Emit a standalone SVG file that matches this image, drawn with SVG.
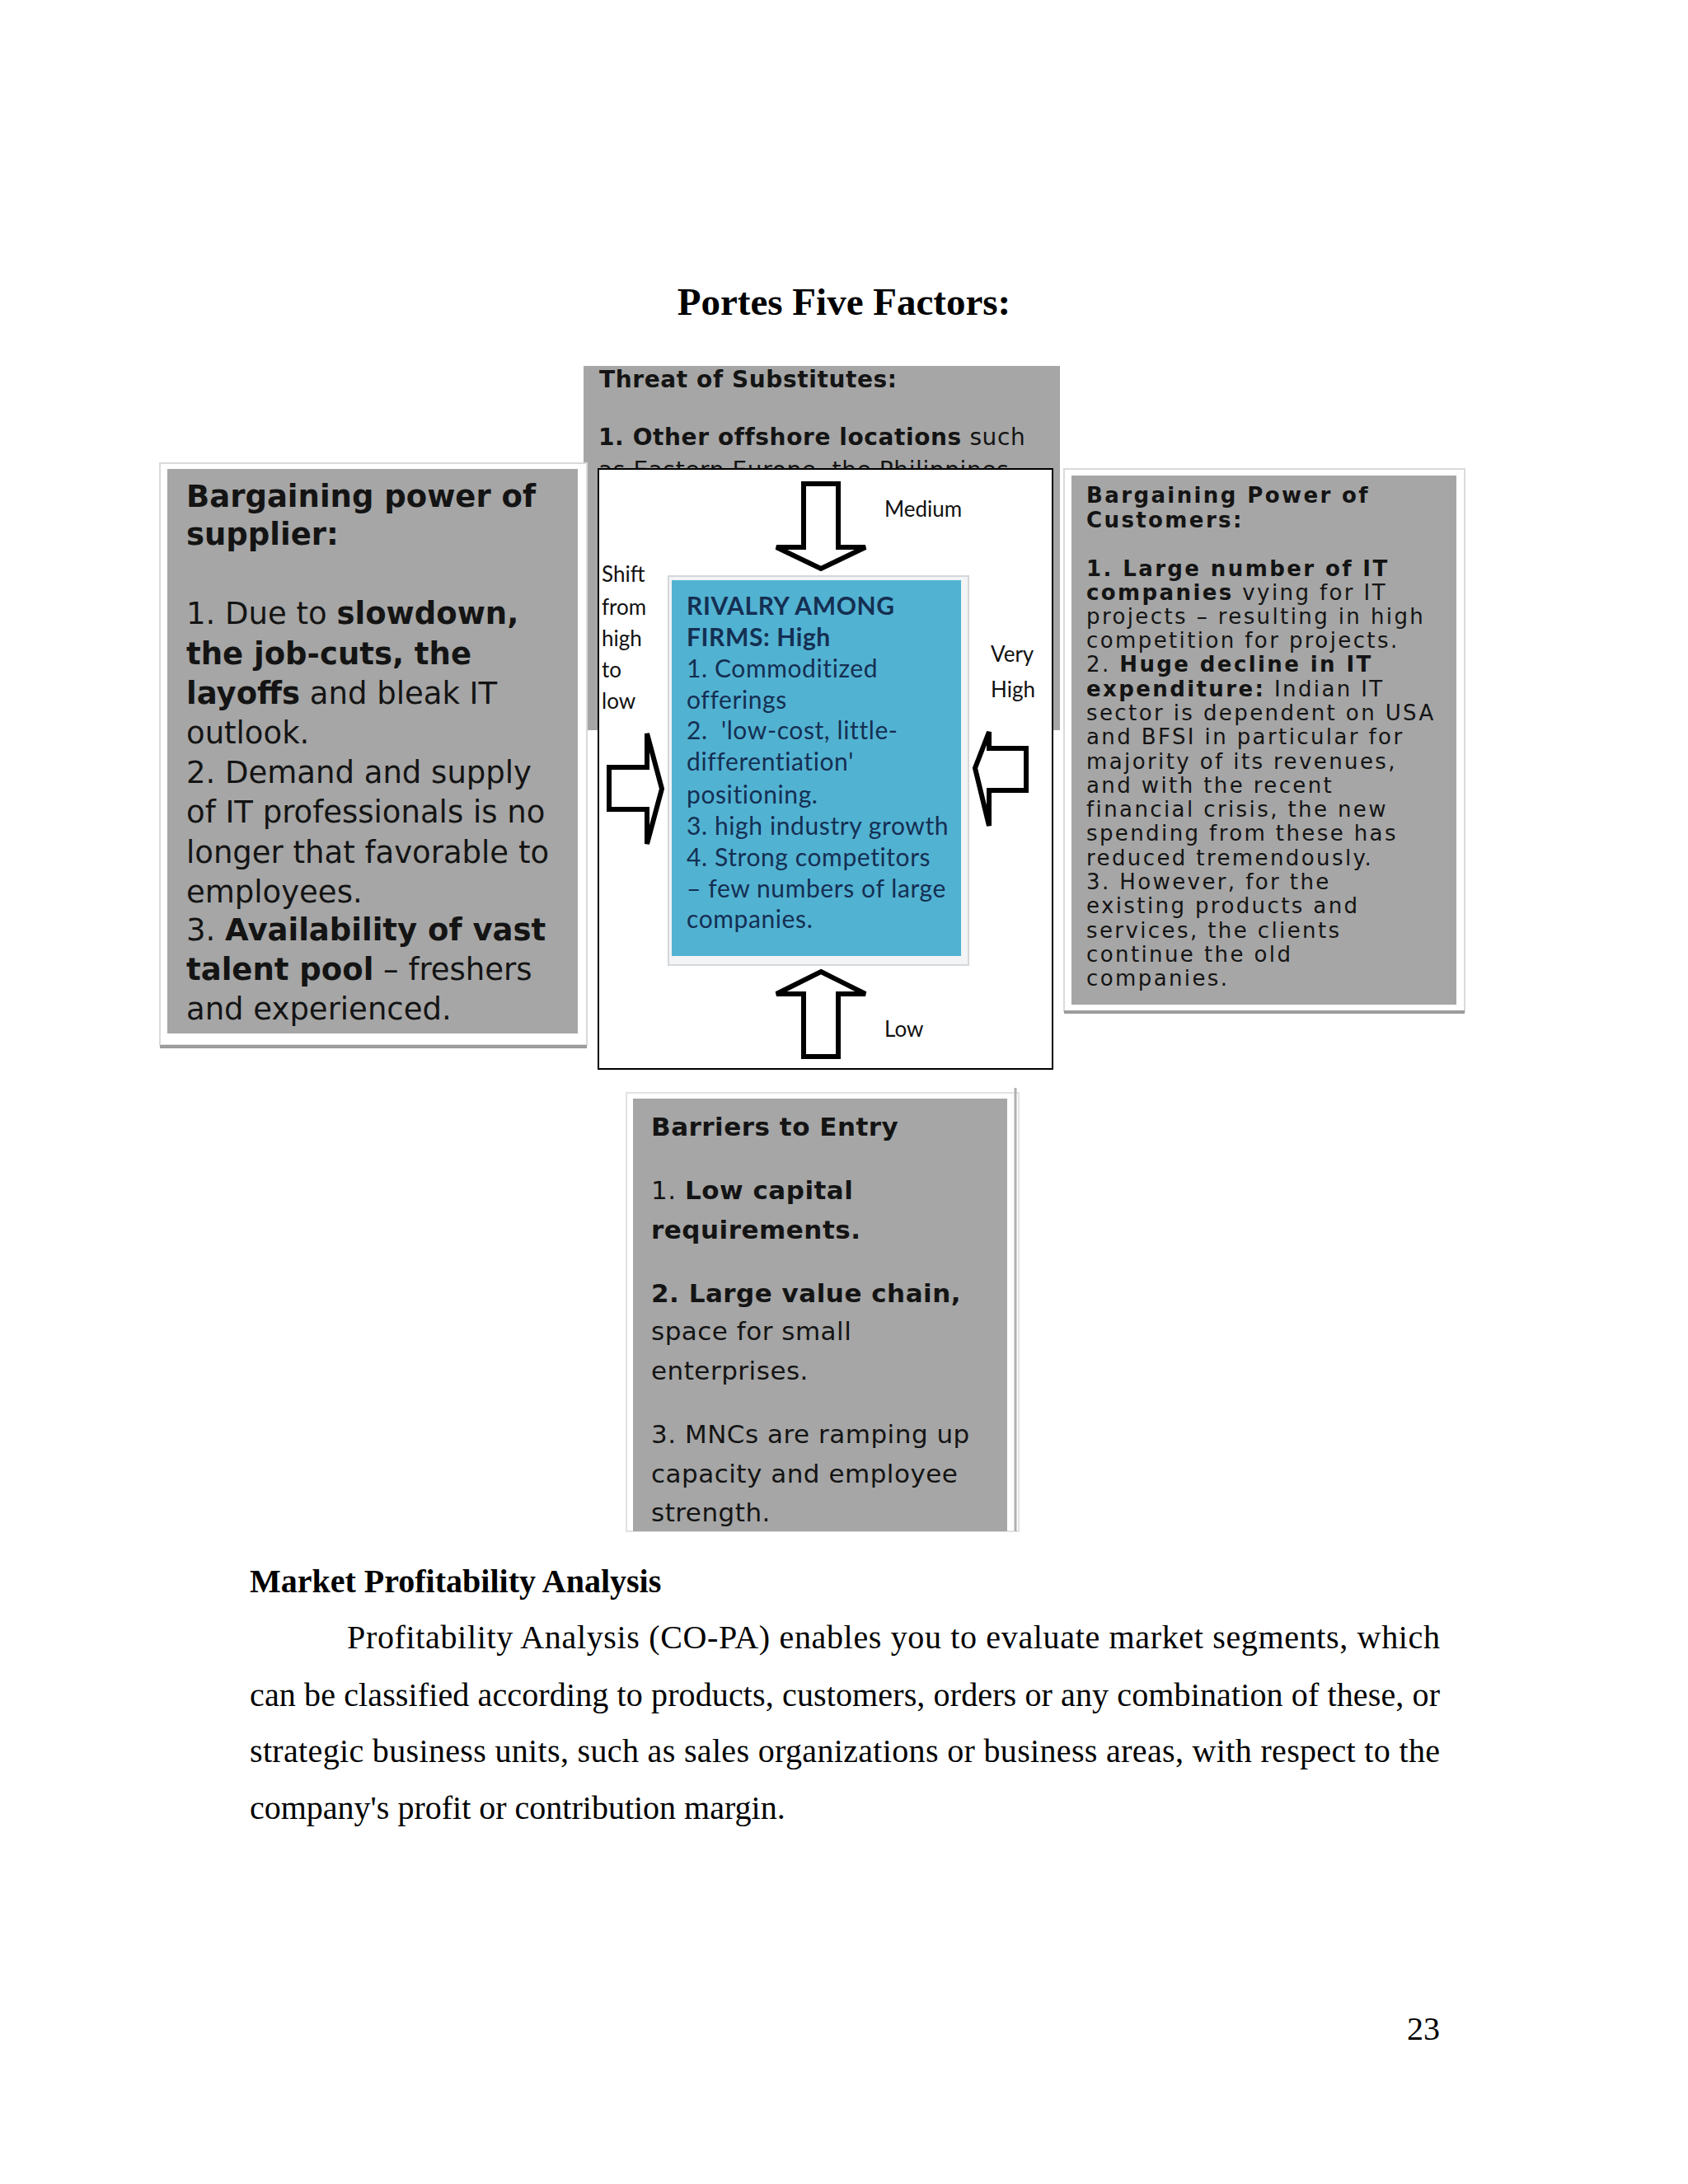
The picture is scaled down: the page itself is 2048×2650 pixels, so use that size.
<svg xmlns="http://www.w3.org/2000/svg" width="2048" height="2650" viewBox="0 0 2048 2650">
<defs>
<style>
.page{fill:#fff}
.gray{fill:#a6a6a6}
.frame{fill:#fff;stroke:#dadada;stroke-width:2}
.shadow{stroke:#9c9c9c;stroke-width:4}
.bt{font-family:"DejaVu Sans",Verdana,sans-serif;fill:#141414}
.l37{font-size:37px}
.r25{font-size:26px;letter-spacing:2.4px}
.t28{font-size:28px;letter-spacing:0.6px}
.b31{font-size:31px;letter-spacing:0.5px}
.b{font-weight:bold}
.arrow{fill:#fff;stroke:#000;stroke-width:6;stroke-linejoin:miter}
.lbl{font-family:Lato,"Open Sans",sans-serif;font-size:26px;fill:#111}
.rv{font-family:Lato,"Open Sans",sans-serif;font-size:30px;fill:#142f52;letter-spacing:0.6px}
.serif{font-family:"Liberation Serif","Times New Roman",serif;fill:#000}
</style>
<clipPath id="topclip"><rect x="700" y="430" width="600" height="139"/></clipPath>
</defs>
<rect class="page" x="0" y="0" width="2048" height="2650"/>

<text id="title" class="serif" x="1024" y="382" font-size="47" font-weight="bold" text-anchor="middle">Portes Five Factors:</text>

<g id="threat-substitutes">
<rect class="gray" x="708" y="444" width="578" height="442"/>
<text class="bt t28 b" x="727" y="470">Threat of Substitutes:</text>
<text class="bt t28" x="726" y="540"><tspan class="b">1. Other offshore locations</tspan> such</text>
<text class="bt t28" x="726" y="580" clip-path="url(#topclip)">as Eastern Europe, the Philippines</text>
</g>

<g id="supplier-power">
<rect class="frame" x="194" y="562" width="518" height="706"/>
<rect class="gray" x="203" y="569" width="498" height="685"/>
<line class="shadow" x1="194" y1="1270" x2="712" y2="1270"/>
<text class="bt l37 b" x="226" y="615">Bargaining power of</text>
<text class="bt l37 b" x="226" y="661">supplier:</text>
<text class="bt l37" x="226" y="757">1. Due to <tspan class="b">slowdown,</tspan></text>
<text class="bt l37 b" x="226" y="806">the job-cuts, the</text>
<text class="bt l37" x="226" y="854"><tspan class="b">layoffs</tspan> and bleak IT</text>
<text class="bt l37" x="226" y="902">outlook.</text>
<text class="bt l37" x="226" y="950">2. Demand and supply</text>
<text class="bt l37" x="226" y="998">of IT professionals is no</text>
<text class="bt l37" x="226" y="1047">longer that favorable to</text>
<text class="bt l37" x="226" y="1095">employees.</text>
<text class="bt l37" x="226" y="1141">3. <tspan class="b">Availability of vast</tspan></text>
<text class="bt l37" x="226" y="1189"><tspan class="b">talent pool</tspan> – freshers</text>
<text class="bt l37" x="226" y="1237">and experienced.</text>
</g>

<g id="customer-power">
<rect class="frame" x="1291" y="569" width="486" height="658"/>
<rect class="gray" x="1300" y="577" width="467" height="642"/>
<line class="shadow" x1="1291" y1="1228" x2="1777" y2="1228"/>
<text class="bt r25 b" x="1318" y="610">Bargaining Power of</text>
<text class="bt r25 b" x="1318" y="640">Customers:</text>
<text class="bt r25 b" x="1318" y="699">1. Large number of IT</text>
<text class="bt r25" x="1318" y="728"><tspan class="b">companies</tspan> vying for IT</text>
<text class="bt r25" x="1318" y="757">projects – resulting in high</text>
<text class="bt r25" x="1318" y="786">competition for projects.</text>
<text class="bt r25" x="1318" y="815">2. <tspan class="b">Huge decline in IT</tspan></text>
<text class="bt r25" x="1318" y="845"><tspan class="b">expenditure:</tspan> Indian IT</text>
<text class="bt r25" x="1318" y="874">sector is dependent on USA</text>
<text class="bt r25" x="1318" y="903">and BFSI in particular for</text>
<text class="bt r25" x="1318" y="933">majority of its revenues,</text>
<text class="bt r25" x="1318" y="962">and with the recent</text>
<text class="bt r25" x="1318" y="991">financial crisis, the new</text>
<text class="bt r25" x="1318" y="1020">spending from these has</text>
<text class="bt r25" x="1318" y="1050">reduced tremendously.</text>
<text class="bt r25" x="1318" y="1079">3. However, for the</text>
<text class="bt r25" x="1318" y="1108">existing products and</text>
<text class="bt r25" x="1318" y="1138">services, the clients</text>
<text class="bt r25" x="1318" y="1167">continue the old</text>
<text class="bt r25" x="1318" y="1196">companies.</text>
</g>

<g id="barriers-entry">
<rect x="760" y="1326" width="476" height="532" fill="#fff" stroke="#e2e2e2" stroke-width="2"/>
<rect class="gray" x="768" y="1333" width="454" height="525"/>
<line x1="1232" y1="1320" x2="1232" y2="1858" stroke="#b0b0b0" stroke-width="3"/>
<text class="bt b31 b" x="790" y="1378">Barriers to Entry</text>
<text class="bt b31" x="790" y="1455">1. <tspan class="b">Low capital</tspan></text>
<text class="bt b31 b" x="790" y="1503">requirements.</text>
<text class="bt b31 b" x="790" y="1580">2. Large value chain,</text>
<text class="bt b31" x="790" y="1626">space for small</text>
<text class="bt b31" x="790" y="1674">enterprises.</text>
<text class="bt b31" x="790" y="1751">3. MNCs are ramping up</text>
<text class="bt b31" x="790" y="1799">capacity and employee</text>
<text class="bt b31" x="790" y="1846">strength.</text>
</g>

<g id="rivalry">
<rect x="726" y="569" width="551" height="728" fill="#fff" stroke="#000" stroke-width="2"/>
<rect x="811" y="699" width="364" height="472" fill="#f2f4f5" stroke="#d4d8da" stroke-width="2"/>
<rect x="815" y="704" width="351" height="456" fill="#52b2d2"/>
<text class="rv" x="833" y="746" font-weight="bold">RIVALRY AMONG</text>
<text class="rv" x="833" y="784" font-weight="bold">FIRMS: High</text>
<text class="rv" x="833" y="822">1. Commoditized</text>
<text class="rv" x="833" y="860">offerings</text>
<text class="rv" x="833" y="897">2. <tspan dx="8">'low-cost, little-</tspan></text>
<text class="rv" x="833" y="935">differentiation'</text>
<text class="rv" x="833" y="975">positioning.</text>
<text class="rv" x="833" y="1013">3. high industry growth</text>
<text class="rv" x="833" y="1051">4. Strong competitors</text>
<text class="rv" x="833" y="1089">– few numbers of large</text>
<text class="rv" x="833" y="1126">companies.</text>
</g>

<g id="connectors">
<polygon class="arrow" points="975,587 1017,587 1017,664 1050,664 996,690 942,664 975,664"/>
<polygon class="arrow" points="996,1179 1050,1206 1017,1206 1017,1282 975,1282 975,1206 942,1206"/>
<polygon class="arrow" points="739,931 785,931 785,890 803,957 785,1024 785,982 739,982"/>
<polygon class="arrow" points="1245,908 1245,959 1200,959 1200,1002 1183,932 1200,888 1200,908"/>
<text class="lbl" x="1073" y="627">Medium</text>
<text class="lbl" x="1073" y="1258">Low</text>
<text class="lbl" x="730" y="706">Shift</text>
<text class="lbl" x="730" y="746">from</text>
<text class="lbl" x="730" y="784">high</text>
<text class="lbl" x="730" y="822">to</text>
<text class="lbl" x="730" y="860">low</text>
<text class="lbl" x="1202" y="803">Very</text>
<text class="lbl" x="1202" y="846">High</text>
</g>

<g id="body-text">
<text class="serif" x="303" y="1932" font-size="40" font-weight="bold">Market Profitability Analysis</text>
<text class="serif" x="421" y="2000" font-size="40" textLength="1326" lengthAdjust="spacing">Profitability Analysis (CO-PA) enables you to evaluate market segments, which</text>
<text class="serif" x="303" y="2070" font-size="40" textLength="1444" lengthAdjust="spacing">can be classified according to products, customers, orders or any combination of these, or</text>
<text class="serif" x="303" y="2138" font-size="40" textLength="1444" lengthAdjust="spacing">strategic business units, such as sales organizations or business areas, with respect to the</text>
<text class="serif" x="303" y="2207" font-size="40">company's profit or contribution margin.</text>
<text class="serif" x="1747" y="2475" font-size="40" text-anchor="end">23</text>
</g>
</svg>
